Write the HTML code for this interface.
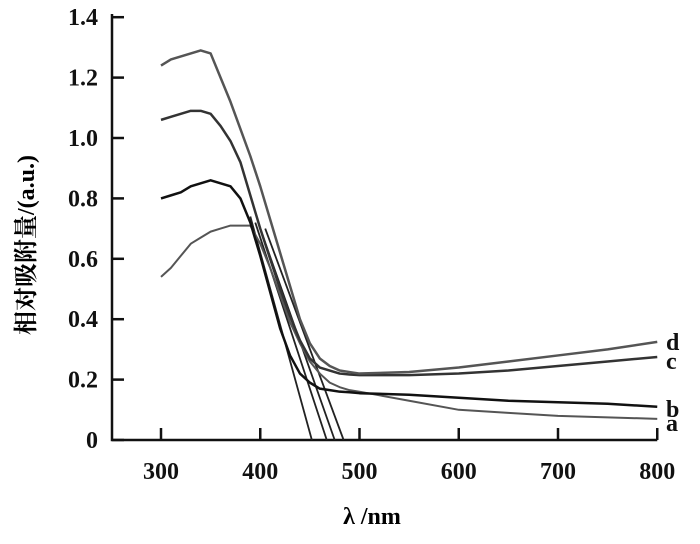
<!DOCTYPE html>
<html><head><meta charset="utf-8"><style>
body{margin:0;background:#fff}
svg{display:block;font-family:"Liberation Serif","Noto Serif CJK SC",serif}
</style></head><body>
<svg id="chart" width="700" height="544" xmlns="http://www.w3.org/2000/svg">
<text x="34" y="245" transform="rotate(-90 34 245)" text-anchor="middle" font-size="24" font-weight="bold" font-family="'Liberation Serif','Noto Serif CJK SC',serif">相对吸附量/(a.u.)</text>
<text x="372" y="524" text-anchor="middle" font-size="24" font-weight="bold">λ /nm</text>
</svg>
<script>
const xTicks=[300,400,500,600,700,800];
const yTicks=[0,0.2,0.4,0.6,0.8,1.0,1.2,1.4];
const yTickLabels=["0","0.2","0.4","0.6","0.8","1.0","1.2","1.4"];
const wl=[300,310,320,330,340,350,360,370,380,390,400,410,420,430,440,450,460,470,480,490,500,550,600,650,700,750,800];
const seriesA=[0.54,0.57,0.61,0.65,0.67,0.69,0.70,0.71,0.71,0.71,0.65,0.57,0.48,0.39,0.32,0.26,0.22,0.19,0.175,0.165,0.16,0.13,0.10,0.09,0.08,0.075,0.07];
const seriesB=[0.80,0.81,0.82,0.84,0.85,0.86,0.85,0.84,0.80,0.72,0.61,0.49,0.37,0.28,0.22,0.19,0.17,0.165,0.16,0.158,0.155,0.15,0.14,0.13,0.125,0.12,0.11];
const seriesC=[1.06,1.07,1.08,1.09,1.09,1.08,1.04,0.99,0.92,0.81,0.70,0.60,0.50,0.41,0.33,0.27,0.24,0.23,0.22,0.217,0.215,0.215,0.22,0.23,0.245,0.26,0.275];
const seriesD=[1.24,1.26,1.27,1.28,1.29,1.28,1.20,1.12,1.03,0.94,0.84,0.73,0.62,0.51,0.40,0.32,0.27,0.245,0.23,0.225,0.22,0.225,0.24,0.26,0.28,0.30,0.325];
const tangents=[[390,0.74,452],[395,0.72,467],[400,0.70,475],[405,0.70,484]];
const labels=["a","b","c","d"];
const xs=v=>161+(v-300)*0.9925;
const ys=v=>440-v*302;
const svg=document.getElementById('chart');
const NS='http://www.w3.org/2000/svg';
function mk(t,a){const e=document.createElementNS(NS,t);for(const k in a)e.setAttribute(k,a[k]);svg.appendChild(e);return e;}
let e=mk('path',{d:`M112 14 V440 H${xs(800)}`,fill:'none',stroke:'#111','stroke-width':2.5});


yTicks.forEach((v,i)=>{
 let t=mk('line',{x1:112,x2:124,y1:ys(v),y2:ys(v),stroke:'#111','stroke-width':2.5});
 
 
 let l=mk('text',{x:98,y:ys(v)+8,'text-anchor':'end','font-size':24,'font-weight':'bold',fill:'#111'});
 l.textContent=yTickLabels[i];
 
 
});
xTicks.forEach(v=>{
 let t=mk('line',{x1:xs(v),x2:xs(v),y1:440,y2:428,stroke:'#111','stroke-width':2.5});
 
 
 let l=mk('text',{x:xs(v),y:479,'text-anchor':'middle','font-size':24,'font-weight':'bold',fill:'#111'});
 l.textContent=String(v);
 
 
});
tangents.forEach(t=>{
 let l=mk('line',{x1:xs(t[0]),y1:ys(t[1]),x2:xs(t[2]),y2:ys(0),stroke:'#222','stroke-width':1.8});
 
 
});
const all=[seriesA,seriesB,seriesC,seriesD];
const colors=['#555','#111','#333','#555'];
all.forEach((s,i)=>{
 let p=mk('polyline',{points:wl.map((w,j)=>xs(w)+','+ys(s[j])).join(' '),fill:'none',stroke:colors[i],'stroke-width':i==0?2:2.5,'stroke-linejoin':'round'});
 
 
 let l=mk('text',{x:666,y:ys(s[s.length-1])+[12,10,12,8][i],'font-size':24,'font-weight':'bold',fill:'#111'});
 l.textContent=labels[i];
 
 
});
</script>
</body></html>
